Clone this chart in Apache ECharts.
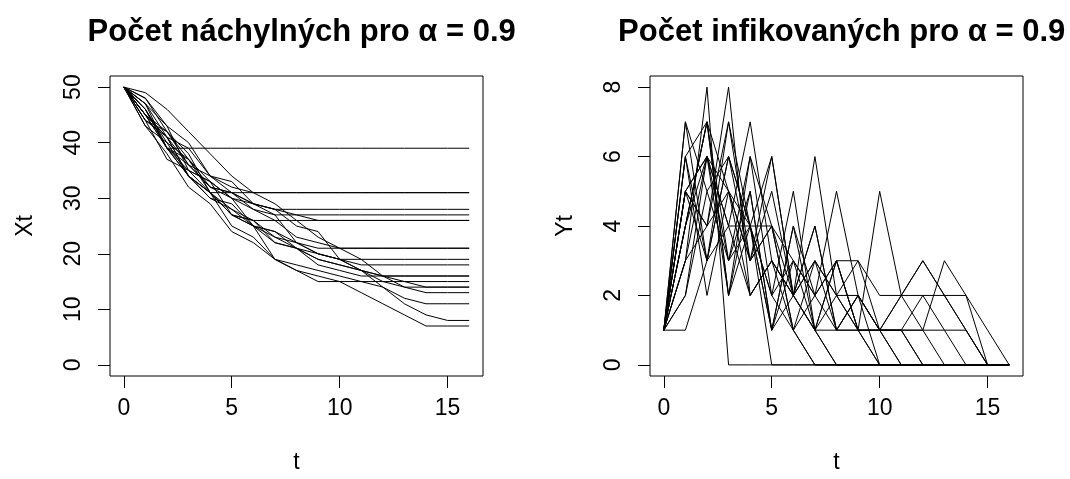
<!DOCTYPE html>
<html><head><meta charset="utf-8">
<script src="https://cdn.jsdelivr.net/npm/echarts@6/dist/echarts.min.js"></script>
<style>html,body{margin:0;padding:0;background:#fff}#c{width:1070px;height:479px}</style>
</head><body><div id="c"></div>
<script>
const t = [0,1,2,3,4,5,6,7,8,9,10,11,12,13,14,15,16];
const xTicks = [0,5,10,15];
const xtTicks = [0,10,20,30,40,50];
const ytTicks = [0,2,4,6,8];
const titleLeft = 'Počet náchylných pro α = 0.9';
const titleRight = 'Počet infikovaných pro α = 0.9';

// susceptible counts X_t (one array per simulated run)
const X01 = [50,47,39,39,39,39,39,39,39,39,39,39,39,39,39,39,39];
const X02 = [50,44,37,35,31,31,31,31,31,31,31,31,31,31,31,31,31];
const X03 = [50,48,43,40,34,32,31,31,31,31,31,31,31,31,31,31,31];
const X04 = [50,46,39,36,32,31,29,28,28,28,28,28,28,28,28,28,28];
const X05 = [50,47,43,35,33,30,28,27,27,27,27,27,27,27,27,27,27];
const X06 = [50,45,41,34,31,27,26,26,26,26,26,26,26,26,26,26,26];
const X07 = [50,47,41,39,34,33,29,28,27,26,26,26,26,26,26,26,26];
const X08 = [50,46,40,37,32,31,28,26,23,22,21,21,21,21,21,21,21];
const X09 = [50,44,41,34,30,28,25,24,22,21,21,21,21,21,21,21,21];
const X10 = [50,45,39,35,33,30,29,27,22,20,19,19,19,19,19,19,19];
const X11 = [50,43,40,34,30,29,25,23,22,20,19,18,18,18,18,18,18];
const X12 = [50,46,39,37,31,27,26,23,21,18,17,16,16,16,16,16,16];
const X13 = [50,44,42,37,33,27,25,22,21,19,18,17,16,16,16,16,16];
const X14 = [50,45,39,34,31,27,25,19,17,15,15,15,15,15,15,15,15];
const X15 = [50,48,42,38,31,28,26,22,21,19,18,17,15,14,14,14,14];
const X16 = [50,45,42,36,32,30,25,24,21,20,19,17,16,15,14,14,14];
const X17 = [50,49,46,42,38,34,31,29,26,23,21,19,16,14,13,13,13];
const X18 = [50,45,41,36,34,31,29,28,25,24,19,17,14,12,11,11,11];
const X19 = [50,46,39,34,31,25,23,19,18,17,16,15,14,11,9,8,8];
const X20 = [50,43,38,32,29,24,22,19,17,16,15,13,11,9,7,7,7];

// infected counts Y_t
const Y01 = [1,3,8,0,0,0,0,0,0,0,0,0,0,0,0,0,0];
const Y02 = [1,6,7,2,4,0,0,0,0,0,0,0,0,0,0,0,0];
const Y03 = [1,2,5,3,6,2,1,0,0,0,0,0,0,0,0,0,0];
const Y04 = [1,4,7,3,4,1,2,1,0,0,0,0,0,0,0,0,0];
const Y05 = [1,3,4,8,2,3,2,1,0,0,0,0,0,0,0,0,0];
const Y06 = [1,5,4,7,3,4,1,0,0,0,0,0,0,0,0,0,0];
const Y07 = [1,3,6,2,5,1,4,1,1,1,0,0,0,0,0,0,0];
const Y08 = [1,4,6,3,5,1,3,2,3,1,1,0,0,0,0,0,0];
const Y09 = [1,6,3,7,4,2,3,1,2,1,0,0,0,0,0,0,0];
const Y10 = [1,5,6,4,2,3,1,2,5,2,1,0,0,0,0,0,0];
const Y11 = [1,7,3,6,4,1,4,2,1,2,1,1,0,0,0,0,0];
const Y12 = [1,4,7,2,6,4,1,3,2,3,1,1,0,0,0,0,0];
const Y13 = [1,6,2,5,4,6,2,3,1,2,1,1,1,0,0,0,0];
const Y14 = [1,5,6,5,3,4,2,6,2,2,0,0,0,0,0,0,0];
const Y15 = [1,2,6,4,7,3,2,4,1,2,1,1,2,1,0,0,0];
const Y16 = [1,5,3,6,4,2,5,1,3,1,1,2,1,1,1,0,0];
const Y17 = [1,1,3,4,4,4,3,2,3,3,2,2,3,2,1,0,0];
const Y18 = [1,5,4,5,2,3,2,1,3,1,5,2,3,2,1,0,0];
const Y19 = [1,4,7,5,3,6,2,4,1,1,1,1,1,3,2,1,0];
const Y20 = [1,7,5,6,3,5,2,3,2,1,1,2,2,2,2,0,0];

const Xs = [X01,X02,X03,X04,X05,X06,X07,X08,X09,X10,X11,X12,X13,X14,X15,X16,X17,X18,X19,X20];
const Ys = [Y01,Y02,Y03,Y04,Y05,Y06,Y07,Y08,Y09,Y10,Y11,Y12,Y13,Y14,Y15,Y16,Y17,Y18,Y19,Y20];

const FONT = "'Liberation Sans', Arial, sans-serif";
const FS = 23;
const labelStyle = {color:'#000', fontFamily: FONT, fontSize: FS};

function xAx(gi){
  return {
    type:'value', gridIndex:gi, min:-0.64, max:16.64,
    name:'t', nameLocation:'middle', nameGap:75,
    nameTextStyle:{color:'#000', fontFamily:FONT, fontSize:FS},
    axisLine:{show:false, onZero:false},
    axisTick:{show:true, inside:false, length:12, customValues:xTicks, lineStyle:{color:'#000', width:1}},
    axisLabel:Object.assign({margin:21, customValues:xTicks}, labelStyle),
    splitLine:{show:false}
  };
}
function yAx(gi, min, max, ticks, name){
  return {
    type:'value', gridIndex:gi, min:min, max:max,
    name:name, nameLocation:'middle', nameGap:73, nameRotate:90,
    nameTextStyle:{color:'#000', fontFamily:FONT, fontSize:FS},
    axisLine:{show:false, onZero:false},
    axisTick:{show:true, inside:false, length:12, customValues:ticks, lineStyle:{color:'#000', width:1}},
    axisLabel:Object.assign({margin:25, rotate:90, customValues:ticks}, labelStyle),
    splitLine:{show:false}
  };
}

const series = [];
Xs.forEach(arr => series.push({
  type:'line', xAxisIndex:0, yAxisIndex:0, symbol:'none', silent:true,
  lineStyle:{color:'#000', width:1}, data: t.map((v,i)=>[v, arr[i]])
}));
Ys.forEach(arr => series.push({
  type:'line', xAxisIndex:1, yAxisIndex:1, symbol:'none', silent:true,
  lineStyle:{color:'#000', width:1}, data: t.map((v,i)=>[v, arr[i]])
}));

const chart = echarts.init(document.getElementById('c'), null, {renderer:'canvas'});
chart.setOption({
  animation:false,
  backgroundColor:'#fff',
  title:[
    {text:titleLeft, left:296.7, top:12, textAlign:'center',
     textStyle:{color:'#000', fontFamily:FONT, fontSize:31, fontWeight:'bold'}},
    {text:titleRight, left:836.7, top:12, textAlign:'center',
     textStyle:{color:'#000', fontFamily:FONT, fontSize:31, fontWeight:'bold'}}
  ],
  grid:[
    {left:110, top:76, width:373, height:307, show:true, borderColor:'#000', borderWidth:1, backgroundColor:'transparent'},
    {left:650, top:76, width:373, height:307, show:true, borderColor:'#000', borderWidth:1, backgroundColor:'transparent'}
  ],
  xAxis:[xAx(0), xAx(1)],
  yAxis:[yAx(0,-2,52,xtTicks,'Xt'), yAx(1,-0.32,8.32,ytTicks,'Yt')],
  series:series
});
</script></body></html>
